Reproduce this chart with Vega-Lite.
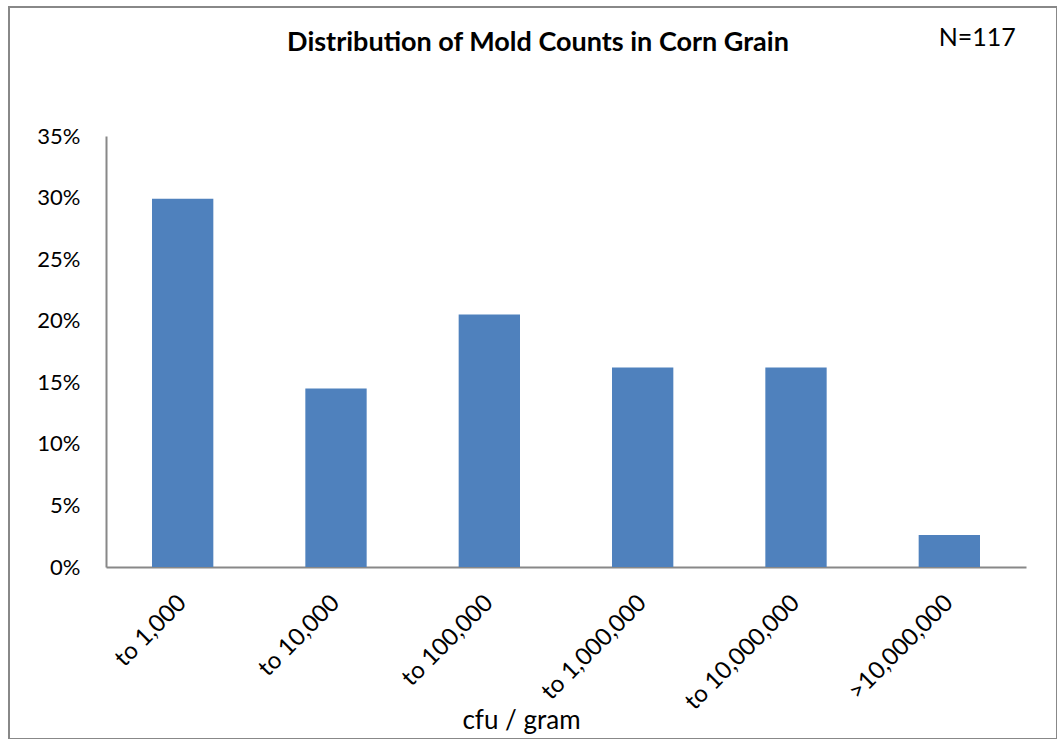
{
  "$schema": "https://vega.github.io/schema/vega-lite/v6.json",
  "autosize": {"type": "none"},
  "padding": {"left": 9, "top": 7, "right": 0, "bottom": 0},
  "width": 1048,
  "height": 732,
  "background": "white",
  "config": {
    "view": {"stroke": "#888888", "strokeWidth": 2},
    "font": "Lato"
  },
  "title": {
    "text": "Distribution of Mold Counts in Corn Grain",
    "font": "Lato",
    "fontSize": 27,
    "fontWeight": "bold",
    "color": "black",
    "anchor": "middle",
    "frame": "group",
    "baseline": "middle",
    "offset": 0,
    "dx": 5,
    "dy": 63
  },
  "data": {
    "values": [
      {"range": "to 1,000", "share": 0.299},
      {"range": "to 10,000", "share": 0.145},
      {"range": "to 100,000", "share": 0.205},
      {"range": "to 1,000,000", "share": 0.162},
      {"range": "to 10,000,000", "share": 0.162},
      {"range": ">10,000,000", "share": 0.026}
    ]
  },
  "layer": [
    {
      "mark": {"type": "bar", "color": "#4F81BD"},
      "encoding": {
        "x": {
          "field": "range",
          "type": "nominal",
          "sort": null,
          "scale": {"range": [97, 1017], "paddingInner": 0.6, "paddingOuter": 0.3},
          "axis": {
            "title": "cfu / gram",
            "titleFont": "Lato",
            "titleFontSize": 26,
            "titleFontWeight": "normal",
            "titleColor": "black",
            "titleX": 512,
            "titleY": 153,
            "titleAlign": "center",
            "titleBaseline": "middle",
            "offset": -172,
            "ticks": false,
            "grid": false,
            "domainColor": "#888888",
            "domainWidth": 2,
            "labelAngle": -45,
            "labelAlign": "right",
            "labelBaseline": "middle",
            "labelPadding": 32,
            "labelFont": "Lato",
            "labelFontSize": 24,
            "labelColor": "black"
          }
        },
        "y": {
          "field": "share",
          "type": "quantitative",
          "scale": {"domain": [0, 0.35], "range": [560, 129], "nice": false},
          "axis": {
            "title": null,
            "values": [0, 0.05, 0.1, 0.15, 0.2, 0.25, 0.3, 0.35],
            "format": ".0%",
            "offset": -97,
            "ticks": false,
            "grid": false,
            "domainColor": "#888888",
            "domainWidth": 2,
            "labelPadding": 26,
            "labelFont": "Lato",
            "labelFontSize": 22,
            "labelColor": "black"
          }
        }
      }
    },
    {
      "data": {"values": [{"range": ">10,000,000", "share": 0.4296, "note": "N=117"}]},
      "mark": {"type": "text", "font": "Lato", "fontSize": 25, "color": "black", "dx": 28, "baseline": "middle", "align": "center"},
      "encoding": {
        "x": {"field": "range", "type": "nominal", "sort": null},
        "y": {"field": "share", "type": "quantitative"},
        "text": {"field": "note"}
      }
    }
  ]
}
